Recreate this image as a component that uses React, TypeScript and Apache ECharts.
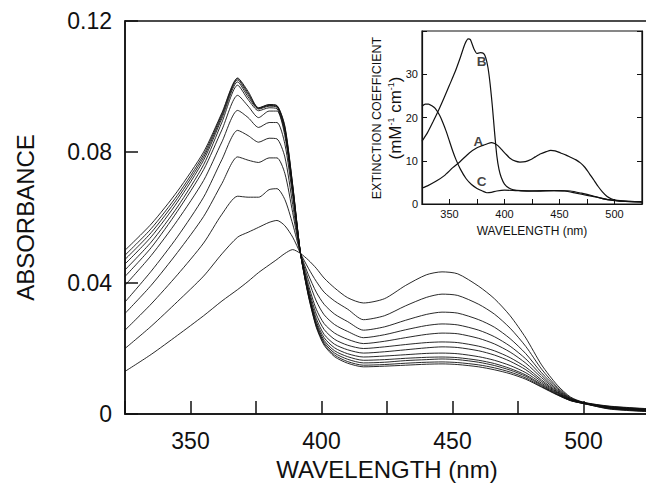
import React, { useEffect, useRef } from 'react';
import * as echarts from 'echarts';

// ---------- main panel data (absorbance vs wavelength, nm) ----------
const WAVELENGTHS = [325, 335, 345, 355, 362, 368, 372, 376, 380, 383, 386, 389, 392, 395, 398, 401, 405, 410, 416, 424, 432, 440, 446, 452, 460, 466, 472, 478, 484, 490, 495, 500, 510, 525];

const SPECTRUM_01 = [0.0130, 0.0182, 0.0240, 0.0300, 0.0345, 0.0380, 0.0405, 0.0432, 0.0455, 0.0472, 0.0490, 0.0502, 0.0490, 0.0470, 0.0445, 0.0415, 0.0385, 0.0355, 0.0339, 0.0352, 0.0392, 0.0425, 0.0434, 0.0428, 0.0390, 0.0352, 0.0300, 0.0232, 0.0150, 0.0088, 0.0052, 0.0036, 0.0024, 0.0016];
const SPECTRUM_02 = [0.0200, 0.0268, 0.0343, 0.0421, 0.0489, 0.0540, 0.0555, 0.0570, 0.0585, 0.0591, 0.0575, 0.0540, 0.0490, 0.0445, 0.0405, 0.0372, 0.0345, 0.0320, 0.0288, 0.0300, 0.0330, 0.0356, 0.0366, 0.0362, 0.0335, 0.0305, 0.0262, 0.0206, 0.0137, 0.0082, 0.0050, 0.0035, 0.0020, 0.0012];
const SPECTRUM_03 = [0.0256, 0.0336, 0.0425, 0.0522, 0.0610, 0.0665, 0.0662, 0.0662, 0.0685, 0.0688, 0.0655, 0.0580, 0.0490, 0.0425, 0.0372, 0.0335, 0.0305, 0.0282, 0.0256, 0.0266, 0.0286, 0.0304, 0.0311, 0.0308, 0.0288, 0.0265, 0.0230, 0.0184, 0.0126, 0.0078, 0.0048, 0.0035, 0.0023, 0.0015];
const SPECTRUM_04 = [0.0307, 0.0393, 0.0493, 0.0603, 0.0704, 0.0785, 0.0775, 0.0768, 0.0782, 0.0782, 0.0735, 0.0615, 0.0490, 0.0410, 0.0345, 0.0303, 0.0273, 0.0252, 0.0233, 0.0242, 0.0257, 0.0270, 0.0275, 0.0272, 0.0256, 0.0236, 0.0207, 0.0168, 0.0118, 0.0074, 0.0047, 0.0034, 0.0019, 0.0011];
const SPECTRUM_05 = [0.0342, 0.0436, 0.0541, 0.0662, 0.0777, 0.0866, 0.0850, 0.0830, 0.0842, 0.0840, 0.0785, 0.0640, 0.0490, 0.0395, 0.0320, 0.0276, 0.0247, 0.0228, 0.0215, 0.0222, 0.0233, 0.0243, 0.0247, 0.0245, 0.0231, 0.0214, 0.0189, 0.0155, 0.0111, 0.0071, 0.0046, 0.0034, 0.0022, 0.0014];
const SPECTRUM_06 = [0.0393, 0.0484, 0.0591, 0.0713, 0.0831, 0.0927, 0.0905, 0.0875, 0.0890, 0.0890, 0.0825, 0.0665, 0.0490, 0.0385, 0.0305, 0.0258, 0.0228, 0.0210, 0.0200, 0.0205, 0.0212, 0.0218, 0.0220, 0.0218, 0.0207, 0.0193, 0.0172, 0.0143, 0.0104, 0.0068, 0.0045, 0.0033, 0.0018, 0.0010];
const SPECTRUM_07 = [0.0420, 0.0508, 0.0619, 0.0746, 0.0868, 0.0973, 0.0940, 0.0905, 0.0925, 0.0925, 0.0850, 0.0680, 0.0490, 0.0378, 0.0292, 0.0243, 0.0213, 0.0196, 0.0186, 0.0190, 0.0196, 0.0202, 0.0205, 0.0203, 0.0193, 0.0180, 0.0161, 0.0135, 0.0099, 0.0066, 0.0044, 0.0034, 0.0021, 0.0013];
const SPECTRUM_08 = [0.0440, 0.0525, 0.0632, 0.0761, 0.0891, 0.1004, 0.0960, 0.0926, 0.0935, 0.0932, 0.0860, 0.0685, 0.0490, 0.0372, 0.0283, 0.0233, 0.0202, 0.0184, 0.0174, 0.0177, 0.0181, 0.0185, 0.0186, 0.0184, 0.0175, 0.0164, 0.0148, 0.0126, 0.0094, 0.0064, 0.0043, 0.0033, 0.0017, 0.0009];
const SPECTRUM_09 = [0.0458, 0.0541, 0.0647, 0.0775, 0.0903, 0.1014, 0.0968, 0.0931, 0.0940, 0.0937, 0.0866, 0.0690, 0.0490, 0.0368, 0.0277, 0.0225, 0.0193, 0.0175, 0.0164, 0.0166, 0.0170, 0.0173, 0.0174, 0.0172, 0.0164, 0.0154, 0.0139, 0.0119, 0.0090, 0.0062, 0.0042, 0.0033, 0.0020, 0.0012];
const SPECTRUM_10 = [0.0472, 0.0554, 0.0658, 0.0784, 0.0910, 0.1020, 0.0975, 0.0933, 0.0942, 0.0939, 0.0872, 0.0695, 0.0490, 0.0365, 0.0272, 0.0219, 0.0186, 0.0167, 0.0156, 0.0158, 0.0163, 0.0166, 0.0168, 0.0166, 0.0158, 0.0148, 0.0134, 0.0115, 0.0087, 0.0060, 0.0042, 0.0032, 0.0016, 0.0008];
const SPECTRUM_11 = [0.0485, 0.0566, 0.0668, 0.0792, 0.0916, 0.1024, 0.0980, 0.0934, 0.0944, 0.0941, 0.0876, 0.0698, 0.0490, 0.0362, 0.0268, 0.0214, 0.0180, 0.0160, 0.0149, 0.0151, 0.0155, 0.0158, 0.0159, 0.0157, 0.0150, 0.0141, 0.0128, 0.0110, 0.0084, 0.0059, 0.0041, 0.0032, 0.0019, 0.0011];
const SPECTRUM_12 = [0.0500, 0.0580, 0.0680, 0.0800, 0.0920, 0.1026, 0.0985, 0.0935, 0.0945, 0.0942, 0.0880, 0.0700, 0.0490, 0.0360, 0.0265, 0.0210, 0.0175, 0.0155, 0.0144, 0.0146, 0.0149, 0.0152, 0.0153, 0.0151, 0.0144, 0.0135, 0.0123, 0.0106, 0.0082, 0.0058, 0.0041, 0.0032, 0.0015, 0.0007];

const SPECTRA = [SPECTRUM_01, SPECTRUM_02, SPECTRUM_03, SPECTRUM_04, SPECTRUM_05, SPECTRUM_06, SPECTRUM_07, SPECTRUM_08, SPECTRUM_09, SPECTRUM_10, SPECTRUM_11, SPECTRUM_12];

// ---------- inset data (extinction coefficient, mM^-1 cm^-1) ----------
const INSET_A_WL = [325, 330, 338, 345, 353, 360, 368, 375, 381, 385, 388, 391, 394, 397, 401, 405, 410, 414, 419, 424, 428, 433, 438, 442, 446, 451, 456, 460, 465, 469, 473, 477, 481, 485, 489, 493, 497, 502, 510, 525];
const INSET_A_EPS = [3.7, 4.2, 5.3, 6.5, 8.4, 9.9, 11.8, 13.0, 13.6, 14.0, 14.2, 14.0, 13.5, 12.7, 11.6, 10.6, 9.9, 9.7, 9.8, 10.3, 10.9, 11.6, 12.1, 12.4, 12.3, 11.8, 11.3, 10.8, 10.2, 9.5, 8.5, 7.1, 5.6, 4.1, 2.8, 1.8, 1.2, 0.8, 0.6, 0.5];

const INSET_B_WL = [325, 330, 335, 341, 345, 350, 355, 360, 364, 367, 369, 372, 375, 378, 381, 383, 385, 387, 389, 391, 393, 395, 397, 400, 404, 408, 415, 430, 445, 460, 470, 480, 490, 500, 510, 525];
const INSET_B_EPS = [14.5, 16.5, 19.0, 22.2, 24.5, 27.5, 30.5, 34.0, 37.0, 38.2, 38.0, 36.0, 34.8, 35.0, 34.8, 33.8, 31.5, 27.6, 22.5, 16.5, 11.2, 8.0, 6.2, 4.6, 3.7, 3.3, 3.1, 3.0, 3.1, 3.0, 2.5, 1.9, 1.2, 0.8, 0.6, 0.5];

const INSET_C_WL = [325, 328, 331, 334, 337, 341, 344, 347, 350, 353, 356, 360, 365, 370, 375, 380, 384, 388, 393, 400, 410, 420, 435, 445, 455, 465, 475, 485, 495, 505, 515, 525];
const INSET_C_EPS = [22.6, 23.1, 23.1, 22.7, 22.1, 20.5, 18.8, 16.8, 14.5, 12.2, 10.2, 8.0, 5.9, 4.5, 3.6, 3.0, 2.6, 2.7, 3.0, 3.2, 3.1, 3.0, 3.1, 3.1, 3.0, 2.5, 2.0, 1.5, 1.0, 0.8, 0.6, 0.5];

const INSET_LABELS = ['B', 'A', 'C'];
const INSET_LABEL_WL = [379.3, 376.2, 379.3];
const INSET_LABEL_EPS = [33.0, 14.5, 5.1];

const FONT = "'Liberation Sans', Arial, Helvetica, sans-serif";
const INK = '#111111';

export default function App() {
  const ref = useRef<HTMLDivElement>(null);

  useEffect(() => {
    if (!ref.current) return;
    const chart = echarts.init(ref.current, undefined, { renderer: 'svg' });

    const mainSeries = SPECTRA.map((s, k) => ({
      type: 'line',
      name: 'spectrum ' + (k + 1),
      xAxisIndex: 0,
      yAxisIndex: 0,
      data: WAVELENGTHS.map((w, i) => [w, s[i]]),
      showSymbol: false,
      smooth: 0.25,
      lineStyle: { color: INK, width: 0.9 },
      silent: true,
      z: 2,
    }));

    const insetLine = (name: string, wl: number[], eps: number[]) => ({
      type: 'line',
      name,
      xAxisIndex: 1,
      yAxisIndex: 2,
      data: wl.map((w, i) => [w, eps[i]]),
      showSymbol: false,
      smooth: 0.2,
      lineStyle: { color: INK, width: 1.2 },
      silent: true,
      z: 6,
    });

    const option: any = {
      animation: false,
      backgroundColor: '#ffffff',
      grid: [
        {
          left: 125, top: 21, right: -3, bottom: 69, outerBoundsMode: 'none', containLabel: false,
          show: true, borderColor: INK, borderWidth: 1.5,
        },
        {
          left: 422, top: 31, width: 220, height: 173, outerBoundsMode: 'none', containLabel: false,
          show: true, borderColor: INK, borderWidth: 1.2, backgroundColor: '#ffffff', z: 4,
        },
      ],
      xAxis: [
        {
          gridIndex: 0, type: 'value', min: 325, max: 525, interval: 25,
          name: 'WAVELENGTH (nm)', nameLocation: 'middle', nameGap: 43,
          nameTextStyle: { fontSize: 24, color: INK, fontFamily: FONT },
          axisLine: { show: true, onZero: false, lineStyle: { color: INK, width: 1.5 } },
          axisTick: { show: true, inside: true, length: 13, lineStyle: { color: INK, width: 1.5 } },
          axisLabel: {
            formatter: (v: number) => (v % 50 === 0 ? String(v) : ''),
            fontSize: 23, color: INK, margin: 15, fontFamily: FONT,
          },
          splitLine: { show: false },
        },
        {
          gridIndex: 1, type: 'value', min: 325, max: 525, interval: 25,
          name: 'WAVELENGTH (nm)', nameLocation: 'middle', nameGap: 21,
          nameTextStyle: { fontSize: 12, color: INK, fontFamily: FONT },
          axisLine: { show: true, onZero: false, lineStyle: { color: INK, width: 1.2 } },
          axisTick: { show: true, inside: true, length: 5, lineStyle: { color: INK, width: 1 } },
          axisLabel: {
            formatter: (v: number) => (v % 50 === 0 ? String(v) : ''),
            fontSize: 11, color: INK, margin: 4, fontFamily: FONT,
          },
          splitLine: { show: false },
          z: 6,
        },
      ],
      yAxis: [
        {
          gridIndex: 0, type: 'value', min: 0, max: 0.12, interval: 0.04,
          name: 'ABSORBANCE', nameLocation: 'middle', nameGap: 88,
          nameTextStyle: { fontSize: 24, color: INK, fontFamily: FONT },
          axisLine: { show: true, onZero: false, lineStyle: { color: INK, width: 1.5 } },
          axisTick: { show: true, inside: true, length: 13, lineStyle: { color: INK, width: 1.5 } },
          axisLabel: {
            formatter: (v: number) => (v === 0 ? '0' : v.toFixed(2)),
            fontSize: 23, color: INK, margin: 13, fontFamily: FONT,
          },
          splitLine: { show: false },
        },
        {
          gridIndex: 1, type: 'value', position: 'right', min: 0, max: 40, interval: 10,
          axisLine: { show: true, onZero: false, lineStyle: { color: INK, width: 1.2 } },
          axisTick: { show: true, inside: true, length: 5, lineStyle: { color: INK, width: 1 } },
          axisLabel: { show: false }, splitLine: { show: false }, z: 6,
        },
        {
          gridIndex: 1, type: 'value', position: 'left', min: 0, max: 40, interval: 10,
          axisLine: { show: true, onZero: false, lineStyle: { color: INK, width: 1.2 } },
          axisTick: { show: true, inside: true, length: 5, lineStyle: { color: INK, width: 1 } },
          axisLabel: {
            formatter: (v: number) => (v === 40 ? '' : String(v)),
            fontSize: 11, color: INK, margin: 4, fontFamily: FONT,
          },
          splitLine: { show: false }, z: 6,
        },
      ],
      series: [
        ...mainSeries,
        insetLine('A', INSET_A_WL, INSET_A_EPS),
        insetLine('B', INSET_B_WL, INSET_B_EPS),
        insetLine('C', INSET_C_WL, INSET_C_EPS),
        {
          type: 'scatter',
          name: 'labels',
          xAxisIndex: 1,
          yAxisIndex: 2,
          symbolSize: 0,
          silent: true,
          z: 7,
          data: INSET_LABELS.map((n, i) => ({ name: n, value: [INSET_LABEL_WL[i], INSET_LABEL_EPS[i]] })),
          label: {
            show: true, position: 'inside', formatter: '{b}',
            fontSize: 13.5, fontWeight: 'bold', color: INK, fontFamily: FONT,
          },
        },
      ],
      graphic: [
        {
          type: 'text', x: 376.5, y: 118, rotation: Math.PI / 2, z: 10,
          style: {
            text: 'EXTINCTION COEFFICIENT', fontSize: 12.5, fill: INK, fontFamily: FONT,
            align: 'center', verticalAlign: 'middle',
          },
        },
        {
          type: 'text', x: 395, y: 118, rotation: Math.PI / 2, z: 10,
          style: {
            text: '(mM{sup|-1} cm{sup|-1})', fontSize: 17, fill: INK, fontFamily: FONT,
            align: 'center', verticalAlign: 'middle',
            rich: { sup: { fontSize: 9, verticalAlign: 'top', fill: INK, fontFamily: FONT } },
          },
        },
      ],
    };

    chart.setOption(option);
    return () => chart.dispose();
  }, []);

  return <div ref={ref} style={{ position: 'absolute', left: 0, top: 0, width: 646, height: 483 }} />;
}
